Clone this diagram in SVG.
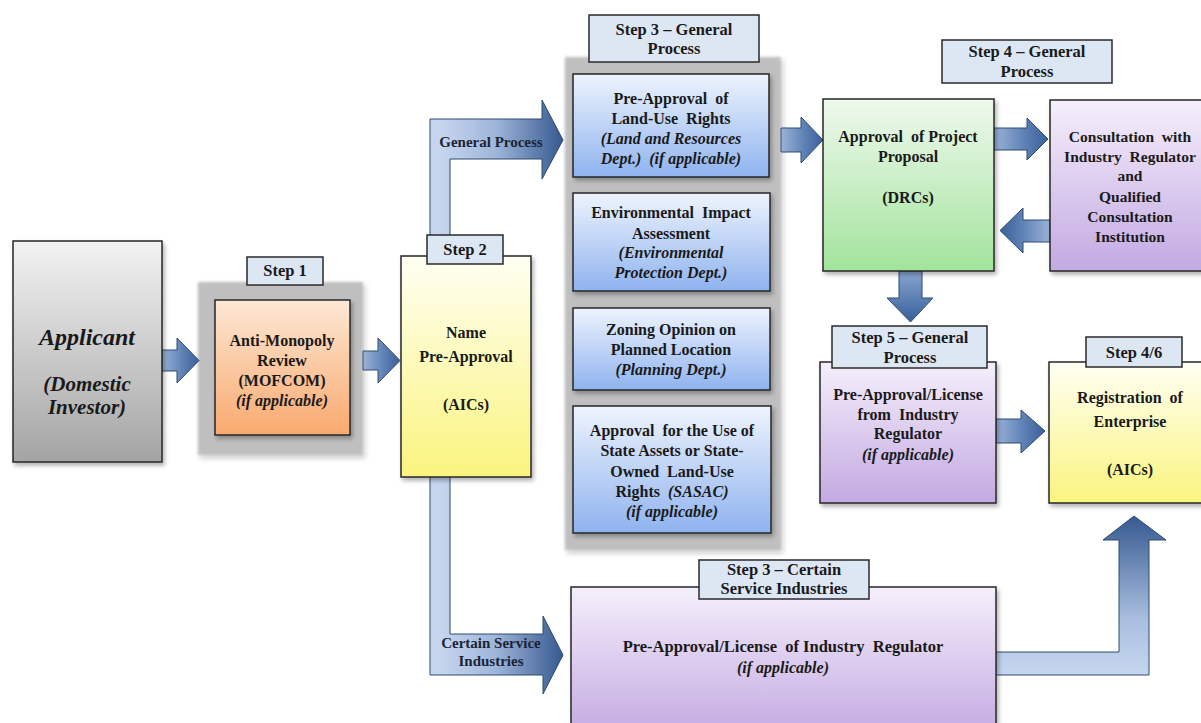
<svg xmlns="http://www.w3.org/2000/svg" width="1201" height="723" viewBox="0 0 1201 723">
<defs>
<style>
.t{font-family:"Liberation Serif","Times New Roman",serif;font-weight:bold;font-size:16px;fill:#1a1a1a;text-anchor:middle;white-space:pre}
.i{font-style:italic}
.sl{font-size:16.5px}
.lab{fill:#dde7f3;stroke:#2a2a2a;stroke-width:1.5}
.box{stroke:#262626;stroke-width:1.5;filter:url(#sh)}
.frame{fill:#bfbfbf;filter:url(#fr)}
.arr{stroke:#2f4a70;stroke-width:1}
.el{font-family:"Liberation Serif","Times New Roman",serif;font-weight:bold;font-size:15px;fill:#1b2436;text-anchor:middle}
</style>
<filter id="sh" x="-10%" y="-10%" width="130%" height="130%"><feDropShadow dx="2" dy="3" stdDeviation="2" flood-color="#000" flood-opacity="0.3"/></filter>
<filter id="fr" x="-10%" y="-10%" width="130%" height="130%"><feGaussianBlur stdDeviation="1.5"/><feDropShadow dx="2" dy="3" stdDeviation="2" flood-color="#000" flood-opacity="0.25"/></filter>
<linearGradient id="gGray" x1="0" y1="0" x2="0" y2="1"><stop offset="0" stop-color="#f3f3f3"/><stop offset="1" stop-color="#a4a4a4"/></linearGradient>
<linearGradient id="gOrange" x1="0" y1="0" x2="0" y2="1"><stop offset="0" stop-color="#fde8d6"/><stop offset="1" stop-color="#f9a96e"/></linearGradient>
<linearGradient id="gYellow" x1="0" y1="0" x2="0" y2="1"><stop offset="0" stop-color="#fffff3"/><stop offset="1" stop-color="#faf47e"/></linearGradient>
<linearGradient id="gBlue" x1="0" y1="0" x2="0" y2="1"><stop offset="0" stop-color="#eef4fd"/><stop offset="1" stop-color="#8fb3ef"/></linearGradient>
<linearGradient id="gGreen" x1="0" y1="0" x2="0" y2="1"><stop offset="0" stop-color="#eff9ed"/><stop offset="1" stop-color="#a2e39c"/></linearGradient>
<linearGradient id="gPurple" x1="0" y1="0" x2="0" y2="1"><stop offset="0" stop-color="#f5effb"/><stop offset="1" stop-color="#c3a9e2"/></linearGradient>
<linearGradient id="aR" x1="0" y1="0" x2="1" y2="0"><stop offset="0" stop-color="#9bb3d8"/><stop offset="0.55" stop-color="#5f82b6"/><stop offset="1" stop-color="#3a6098"/></linearGradient>
<linearGradient id="aL" x1="1" y1="0" x2="0" y2="0"><stop offset="0" stop-color="#9bb3d8"/><stop offset="0.55" stop-color="#5f82b6"/><stop offset="1" stop-color="#3a6098"/></linearGradient>
<linearGradient id="aD" x1="0" y1="0" x2="0" y2="1"><stop offset="0" stop-color="#8aa6d0"/><stop offset="0.5" stop-color="#5f82b6"/><stop offset="1" stop-color="#3a6098"/></linearGradient>
<linearGradient id="e1" gradientUnits="userSpaceOnUse" x1="440" y1="0" x2="563" y2="0"><stop offset="0" stop-color="#c6d6ee"/><stop offset="0.45" stop-color="#9fb6da"/><stop offset="1" stop-color="#36598f"/></linearGradient>
<linearGradient id="e3" gradientUnits="userSpaceOnUse" x1="0" y1="675" x2="0" y2="516"><stop offset="0" stop-color="#c6d6ee"/><stop offset="0.35" stop-color="#a9bfe0"/><stop offset="1" stop-color="#36598f"/></linearGradient>
</defs>
<rect width="1201" height="723" fill="#ffffff"/>

<g id="frame-step1"><rect class="frame" x="198" y="282" width="165" height="173"/></g>
<g id="frame-step3"><rect class="frame" x="565" y="57" width="216" height="493"/></g>

<g id="connectors">
<path class="arr" fill="url(#e1)" d="M430 250 L430 119 L542 119 L542 100 L563 140 L542 179 L542 159 L450 159 L450 250 Z"/>
<path class="arr" fill="url(#e1)" d="M430 470 L430 675 L543 675 L543 694 L563 655 L543 616 L543 634 L450 634 L450 470 Z"/>
<path class="arr" fill="url(#e3)" d="M990 652 L1119 652 L1119 540 L1103 540 L1134 516 L1166 540 L1149 540 L1149 675 L990 675 Z"/>
<path class="arr" fill="url(#aR)" d="M162 350 L177 350 L177 338 L199 360.5 L177 383 L177 371 L162 371 Z"/>
<path class="arr" fill="url(#aR)" d="M363 351 L378 351 L378 338 L400 360.5 L378 383 L378 370 L363 370 Z"/>
<path class="arr" fill="url(#aR)" d="M781 128 L801 128 L801 117 L823 140 L801 163 L801 152 L781 152 Z"/>
<path class="arr" fill="url(#aR)" d="M994 128 L1027 128 L1027 118 L1048 139 L1027 160 L1027 150 L994 150 Z"/>
<path class="arr" fill="url(#aL)" d="M1050 220 L1023 220 L1023 208 L1000 230.5 L1023 253 L1023 242 L1050 242 Z"/>
<path class="arr" fill="url(#aD)" d="M899 271 L899 298 L887 298 L910.5 322 L933 298 L922 298 L922 271 Z"/>
<path class="arr" fill="url(#aR)" d="M996 419 L1021 419 L1021 410 L1045 431 L1021 453 L1021 443 L996 443 Z"/>
<text class="el" x="491" y="147">General Process</text>
<text class="el" x="491" y="648">Certain Service</text>
<text class="el" x="491" y="666">Industries</text>
</g>

<g id="applicant">
<rect class="box" x="13" y="241" width="149" height="221" fill="url(#gGray)"/>
<text class="t i" style="font-size:24px" x="87" y="345">Applicant</text>
<text class="t i" style="font-size:21px" x="87" y="391">(Domestic</text>
<text class="t i" style="font-size:21px" x="87" y="414">Investor)</text>
</g>

<g id="step1">
<rect class="box" x="215" y="300" width="135" height="135" fill="url(#gOrange)"/>
<rect class="lab" x="247" y="257" width="76" height="28"/>
<text class="t sl" x="285" y="276">Step 1</text>
<text class="t" x="282" y="346">Anti-Monopoly</text>
<text class="t" x="282" y="366">Review</text>
<text class="t" x="282" y="386">(MOFCOM)</text>
<text class="t i" x="282" y="406">(if applicable)</text>
</g>

<g id="step2">
<rect class="box" x="401" y="256" width="130" height="221" fill="url(#gYellow)"/>
<rect class="lab" x="427" y="235" width="76" height="29"/>
<text class="t sl" x="465" y="255">Step 2</text>
<text class="t" x="466" y="338">Name</text>
<text class="t" x="466" y="362">Pre-Approval</text>
<text class="t" x="466" y="410">(AICs)</text>
</g>

<g id="step3-label">
<rect class="lab" x="589" y="15" width="170" height="47"/>
<text class="t sl" x="674" y="35">Step 3 – General</text>
<text class="t sl" x="674" y="54">Process</text>
</g>

<g id="land-use">
<rect class="box" x="573" y="74" width="196" height="103" fill="url(#gBlue)"/>
<text class="t" x="671" y="104">Pre-Approval  of</text>
<text class="t" x="671" y="124">Land-Use  Rights</text>
<text class="t i" x="671" y="144">(Land and Resources</text>
<text class="t i" x="671" y="164">Dept.)  (if applicable)</text>
</g>

<g id="environmental">
<rect class="box" x="573" y="193" width="197" height="98" fill="url(#gBlue)"/>
<text class="t" x="671" y="218">Environmental  Impact</text>
<text class="t" x="671" y="239">Assessment</text>
<text class="t i" x="671" y="258">(Environmental</text>
<text class="t i" x="671" y="278">Protection Dept.)</text>
</g>

<g id="zoning">
<rect class="box" x="573" y="308" width="197" height="82" fill="url(#gBlue)"/>
<text class="t" x="671" y="335">Zoning Opinion on</text>
<text class="t" x="671" y="355">Planned Location</text>
<text class="t i" x="671" y="375">(Planning Dept.)</text>
</g>

<g id="sasac">
<rect class="box" x="573" y="406" width="198" height="127" fill="url(#gBlue)"/>
<text class="t" x="672" y="436">Approval  for the Use of</text>
<text class="t" x="672" y="456">State Assets or State-</text>
<text class="t" x="672" y="477">Owned  Land-Use</text>
<text class="t" x="672" y="497">Rights  <tspan class="i">(SASAC)</tspan></text>
<text class="t i" x="672" y="517">(if applicable)</text>
</g>

<g id="project-proposal">
<rect class="box" x="823" y="99" width="171" height="172" fill="url(#gGreen)"/>
<text class="t" x="908" y="142">Approval  of Project</text>
<text class="t" x="908" y="162">Proposal</text>
<text class="t" x="908" y="203">(DRCs)</text>
</g>

<g id="step4-label">
<rect class="lab" x="942" y="40" width="170" height="43"/>
<text class="t sl" x="1027" y="57">Step 4 – General</text>
<text class="t sl" x="1027" y="77">Process</text>
</g>

<g id="consultation">
<rect class="box" x="1050" y="100" width="170" height="171" fill="url(#gPurple)"/>
<text class="t" style="font-size:15.5px" x="1130" y="142">Consultation  with</text>
<text class="t" style="font-size:15.5px" x="1130" y="162">Industry  Regulator</text>
<text class="t" style="font-size:15.5px" x="1130" y="181">and</text>
<text class="t" style="font-size:15.5px" x="1130" y="202">Qualified</text>
<text class="t" style="font-size:15.5px" x="1130" y="222">Consultation</text>
<text class="t" style="font-size:15.5px" x="1130" y="242">Institution</text>
</g>

<g id="step5">
<rect class="box" x="820" y="362" width="176" height="141" fill="url(#gPurple)"/>
<rect class="lab" x="832" y="326" width="155" height="42"/>
<text class="t sl" x="910" y="343">Step 5 – General</text>
<text class="t sl" x="910" y="363">Process</text>
<text class="t" x="908" y="400">Pre-Approval/License</text>
<text class="t" x="908" y="420">from  Industry</text>
<text class="t" x="908" y="439">Regulator</text>
<text class="t i" x="908" y="460">(if applicable)</text>
</g>

<g id="registration">
<rect class="box" x="1049" y="362" width="170" height="141" fill="url(#gYellow)"/>
<rect class="lab" x="1086" y="337" width="96" height="30"/>
<text class="t sl" x="1134" y="358">Step 4/6</text>
<text class="t" x="1130" y="403">Registration  of</text>
<text class="t" x="1130" y="427">Enterprise</text>
<text class="t" x="1130" y="475">(AICs)</text>
</g>

<g id="service-industries">
<rect class="box" x="571" y="587" width="425" height="150" fill="url(#gPurple)"/>
<rect class="lab" x="699" y="560" width="170" height="39"/>
<text class="t sl" x="784" y="575">Step 3 – Certain</text>
<text class="t sl" x="784" y="594">Service Industries</text>
<text class="t" style="font-size:16.5px" x="783" y="652">Pre-Approval/License  of Industry  Regulator</text>
<text class="t i" x="783" y="673">(if applicable)</text>
</g>
</svg>
